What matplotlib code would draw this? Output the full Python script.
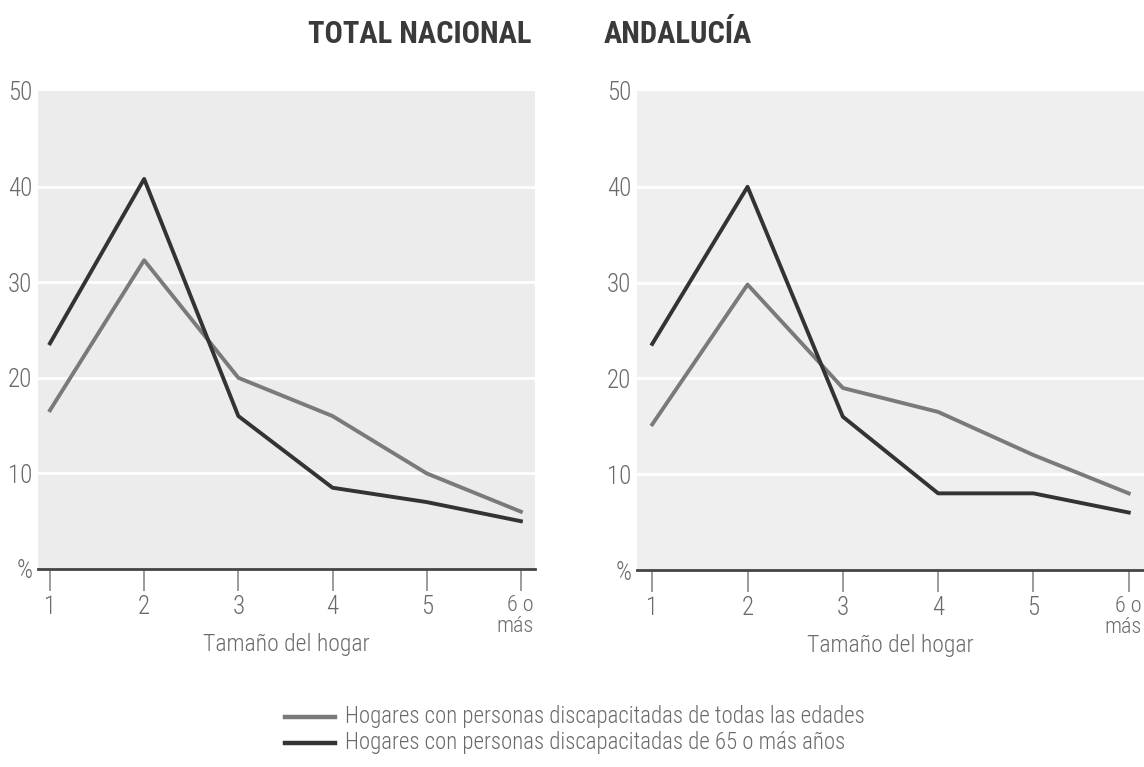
import matplotlib.pyplot as plt
from matplotlib import font_manager as fm
from matplotlib.lines import Line2D

# datos
tamanos = [1, 2, 3, 4, 5, 6]
etiquetas_x = ["1", "2", "3", "4", "5", "6 o\nmás"]
nacional_todas = [16.6, 32.3, 20.0, 16.0, 10.0, 6.0]
nacional_65 = [23.6, 40.8, 16.0, 8.5, 7.0, 5.0]
andalucia_todas = [15.2, 29.8, 19.0, 16.5, 12.0, 8.0]
andalucia_65 = [23.6, 40.0, 16.0, 8.0, 8.0, 6.0]
titulos = ["TOTAL NACIONAL", "ANDALUCÍA"]
leyenda = ["Hogares con personas discapacitadas de todas las edades",
           "Hogares con personas discapacitadas de 65 o más años"]

# fuente estrecha si hay alguna instalada
instaladas = {f.name for f in fm.fontManager.ttflist}
FUENTE = "DejaVu Sans"
for cand in ["Roboto Condensed", "Archivo Narrow", "PT Sans Narrow", "Liberation Sans Narrow"]:
    if cand in instaladas:
        FUENTE = cand
        break
plt.rcParams['font.family'] = [FUENTE, "DejaVu Sans"]

GRIS = "#7a7a7a"
OSCURO = "#333333"
TXT = "#6a6a6a"
FS = 18

fig = plt.figure(figsize=(11.44, 7.67), dpi=100)

ax1 = fig.add_axes([38 / 1144, 1 - 569 / 767, 497 / 1144, 478 / 767])
ax2 = fig.add_axes([637 / 1144, 1 - 570 / 767, 507 / 1144, 479 / 767])

paneles = [(ax1, nacional_todas, nacional_65, (0.873, 6.15), "#ececec"),
           (ax2, andalucia_todas, andalucia_65, (0.84, 6.16), "#efefef")]

for ax, todas, mayores, xl, fondo in paneles:
    ax.set_facecolor(fondo)
    for y in [10, 20, 30, 40]:
        ax.axhline(y, color="white", lw=2, zorder=1)
    ax.plot(tamanos, todas, color=GRIS, lw=2.8, zorder=3)
    ax.plot(tamanos, mayores, color=OSCURO, lw=2.8, zorder=4)
    ax.set_xlim(*xl)
    ax.set_ylim(0, 50)
    for s in ["top", "right", "left"]:
        ax.spines[s].set_visible(False)
    ax.spines["bottom"].set_color("#444444")
    ax.spines["bottom"].set_linewidth(2)
    ax.set_xticks(tamanos)
    ax.set_xticklabels(etiquetas_x[:-1] + [""], color=TXT, fontsize=FS,
                       fontweight="light")
    ax.tick_params(axis="x", length=16, width=1.2, color="#8a8a8a", pad=3)
    ax.set_yticks([0, 10, 20, 30, 40, 50])
    ax.set_yticklabels(["%", "10", "20", "30", "40", "50"], color=TXT, fontsize=FS,
                       fontweight="light")
    ax.tick_params(axis="y", length=0, pad=4)
    # "6 o más": el 6 sobre la marca y "más" debajo, alineado a la derecha
    ax.annotate(etiquetas_x[-1], xy=(tamanos[-1], 0), xytext=(9, -19),
                textcoords="offset points", ha="right", va="top",
                multialignment="right", linespacing=0.95, color=TXT,
                fontsize=16, fontweight="light", annotation_clip=False)
    ax.set_xlabel("Tamaño del hogar", color=TXT, fontsize=17, fontweight="light",
                  labelpad=10)

fig.text(420 / 1144, 1 - 34 / 767, titulos[0], ha="center", va="center",
         fontsize=22, fontweight="bold", color="#3a3a3a")
fig.text(678 / 1144, 1 - 34 / 767, titulos[1], ha="center", va="center",
         fontsize=22, fontweight="bold", color="#3a3a3a")

for i, (txt, col) in enumerate(zip(leyenda, [GRIS, OSCURO])):
    yy = 1 - (717 + 26 * i) / 767
    fig.add_artist(Line2D([285 / 1144, 335 / 1144], [yy, yy], color=col, lw=3.2))
    fig.text(345 / 1144, yy, txt, ha="left", va="center", fontsize=16.5,
             fontweight="light", color=TXT)

fig.savefig("out.png", dpi=100)
